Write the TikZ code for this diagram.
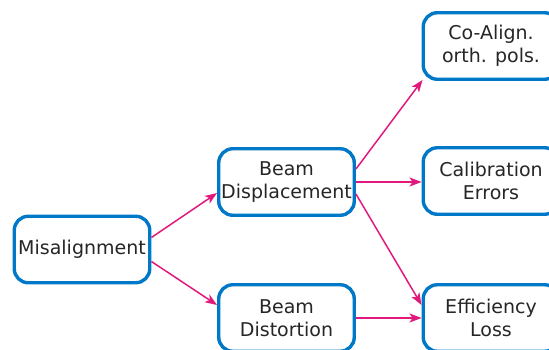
\documentclass[tikz,border=0pt]{standalone}
\usepackage{fontspec}
\setmainfont{DejaVu Sans}
\usetikzlibrary{arrows.meta}
\definecolor{boxblue}{RGB}{0,120,200}
\definecolor{arrpink}{RGB}{226,25,125}

\begin{document}
\begin{tikzpicture}[x=1bp,y=-1bp,
    box/.style={draw=boxblue,line width=3.4bp,rounded corners=14bp,fill=white,
      minimum width=135.5bp,minimum height=66.5bp,align=center,inner sep=0pt,
      text=black!85,font=\fontsize{19bp}{23bp}\selectfont},
    link/.style={draw=arrpink,line width=1.5bp,-{Stealth[length=12bp,width=9bp,inset=3bp]}}]
        \useasboundingbox (0,0) rectangle (549,349);
        \clip (0,0) rectangle (549,349);
        \node[box] (mis) at (82,249.5) {Misalignment};
        \node[box] (disp) at (286.5,182) {Beam\\Displacement};
        \node[box] (dist) at (286.5,318) {Beam\\Distortion};
        \node[box] (coal) at (491,46) {Co-Align.\\orth. pols.};
        \node[box] (cal) at (491,181) {Calibration\\Errors};
        \node[box] (eff) at (491,318) {Efficiency\\Loss};
        \draw[link] ([yshift=12bp]mis.east) -- ([yshift=-11bp]disp.west);
        \draw[link] ([yshift=-12bp]mis.east) -- ([yshift=13bp]dist.west);
        \draw[link] ([yshift=13bp]disp.east) -- ([xshift=1bp,yshift=1bp]coal.south west);
        \draw[link] (disp.east) -- (disp.east -| cal.west);
        \draw[link] ([yshift=-12bp]disp.east) -- ([yshift=13bp]eff.west);
        \draw[link] (dist.east) -- (eff.west);
      \end{tikzpicture}
\end{document}
